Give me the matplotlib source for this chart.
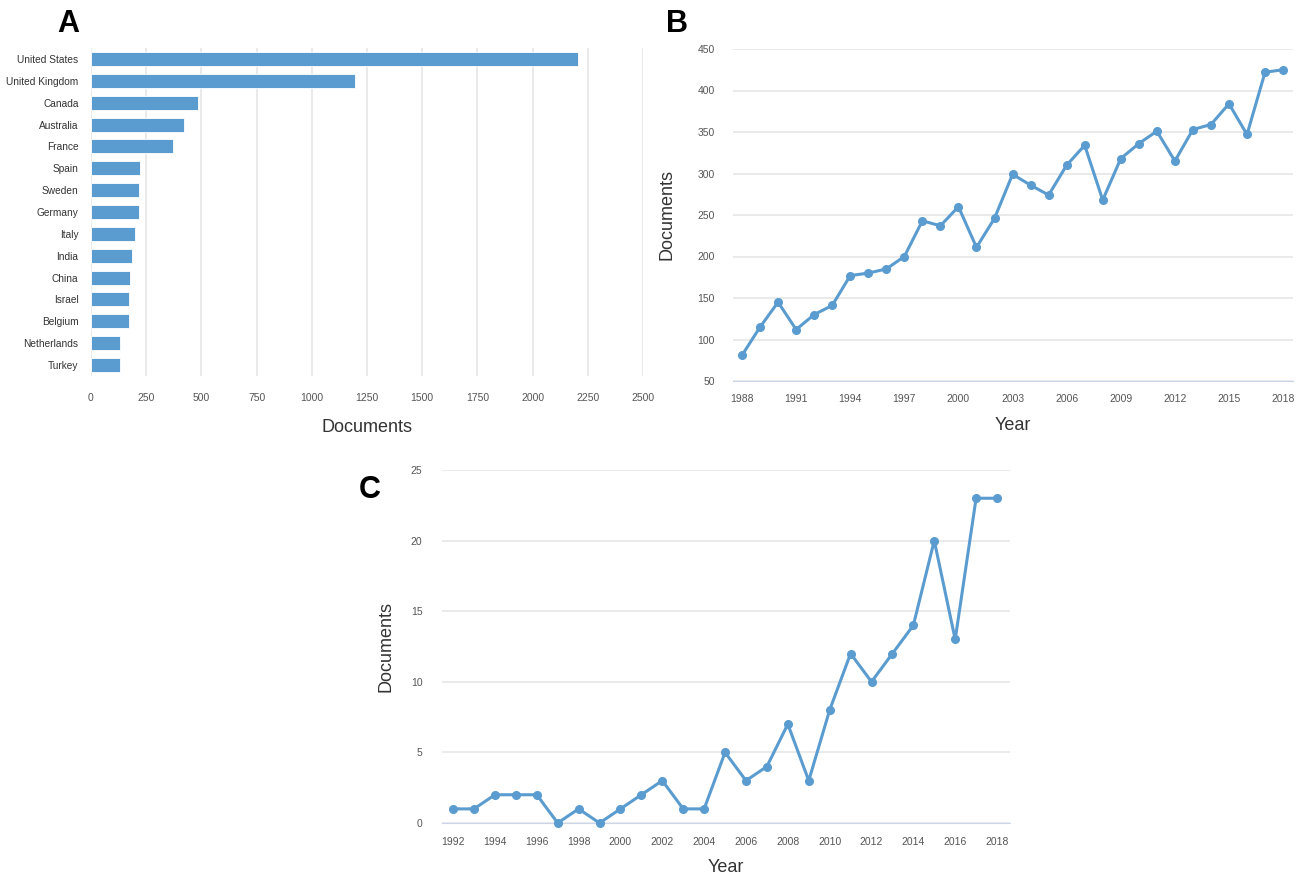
import numpy as np
import matplotlib
matplotlib.use("Agg")
import matplotlib.pyplot as plt

plt.rcParams['font.family'] = ['Liberation Sans', 'DejaVu Sans']

# panel A data
countries = ["United States", "United Kingdom", "Canada", "Australia", "France",
             "Spain", "Sweden", "Germany", "Italy", "India", "China", "Israel",
             "Belgium", "Netherlands", "Turkey"]
country_docs = [2204, 1196, 484, 420, 372, 223, 217, 216, 200, 187, 175, 174, 170, 133, 132]

# panel B data
years_b = list(range(1988, 2019))
docs_b = [81, 115, 145, 112, 130, 141, 177, 180, 185, 200, 243, 237, 260, 211, 246,
          299, 286, 274, 310, 334, 268, 318, 336, 351, 315, 353, 359, 384, 347, 422, 425]

# panel C data
years_c = list(range(1992, 2019))
docs_c = [1, 1, 2, 2, 2, 0, 1, 0, 1, 2, 3, 1, 1, 5, 3, 4, 7, 3, 8, 12, 10, 12, 14, 20, 13, 23, 23]

W, H = 1299, 876
blue = '#5a9ccf'
grid_c = '#e6e6e6'
tick_c = '#555555'
lab_c = '#333333'

fig = plt.figure(figsize=(W / 100, H / 100), dpi=100)

def frac(l, t, r, b):
    return [l / W, 1 - b / H, (r - l) / W, (b - t) / H]

def style(ax):
    for s in ax.spines.values():
        s.set_visible(False)
    ax.tick_params(colors=tick_c, labelsize=7.5, length=0)

# A
axA = fig.add_axes(frac(91, 48, 643, 376))
style(axA)
ypos = np.arange(len(countries))
axA.barh(ypos, country_docs, height=0.64, color=blue, edgecolor='white', linewidth=0.6, zorder=3)
axA.set_ylim(len(countries) - 0.5, -0.5)
axA.set_xlim(0, 2500)
axA.set_xticks(range(0, 2501, 250))
axA.set_yticks(ypos)
axA.set_yticklabels(countries)
axA.tick_params(axis='y', pad=9, labelsize=7.3, labelcolor='#333333')
axA.tick_params(axis='x', pad=12)
axA.grid(axis='x', color=grid_c, linewidth=1.2, zorder=0)
axA.set_xlabel("Documents", fontsize=13, color=lab_c, labelpad=12)

# B
axB = fig.add_axes(frac(733, 49, 1293, 381))
style(axB)
axB.plot(years_b, docs_b, color=blue, linewidth=2.2, marker='o', markersize=5.5, zorder=3, clip_on=False)
axB.set_xlim(1987.5, 2018.55)
axB.set_ylim(50, 450)
axB.set_xticks(range(1988, 2019, 3))
axB.set_yticks(range(50, 451, 50))
axB.grid(axis='y', color=grid_c, linewidth=1.2, zorder=0)
axB.spines['bottom'].set_visible(True)
axB.spines['bottom'].set_color('#ccd6eb')
axB.tick_params(axis='x', pad=9)
axB.tick_params(axis='y', pad=13)
axB.set_xlabel("Year", fontsize=13, color=lab_c, labelpad=10)
axB.set_ylabel("Documents", fontsize=13, color=lab_c, labelpad=16)

# C
axC = fig.add_axes(frac(442, 470, 1010, 823))
style(axC)
axC.plot(years_c, docs_c, color=blue, linewidth=2.2, marker='o', markersize=5.5, zorder=3, clip_on=False)
axC.set_xlim(1991.47, 2018.62)
axC.set_ylim(0, 25)
axC.set_xticks(range(1992, 2019, 2))
axC.set_yticks(range(0, 26, 5))
axC.grid(axis='y', color=grid_c, linewidth=1.2, zorder=0)
axC.spines['bottom'].set_visible(True)
axC.spines['bottom'].set_color('#ccd6eb')
axC.tick_params(axis='x', pad=10)
axC.tick_params(axis='y', pad=14)
axC.set_xlabel("Year", fontsize=13, color=lab_c, labelpad=9)
axC.set_ylabel("Documents", fontsize=13, color=lab_c, labelpad=12)

# panel letters
for lbl, x, y in [("A", 68, 24), ("B", 677, 24), ("C", 370, 490)]:
    fig.text(x / W, 1 - y / H, lbl, fontsize=22, fontweight='bold', ha='center', va='center')

fig.savefig("out.png", dpi=100, facecolor='white')
